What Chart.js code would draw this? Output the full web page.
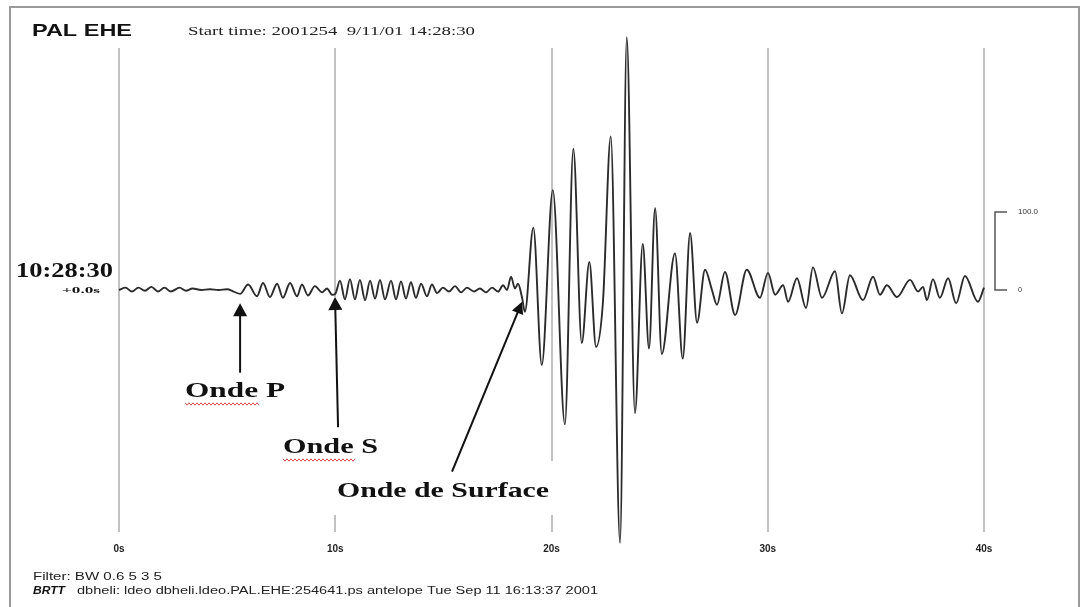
<!DOCTYPE html>
<html><head><meta charset="utf-8">
<script src="https://cdn.jsdelivr.net/npm/chart.js@4.4.1/dist/chart.umd.min.js"></script>
<style>html,body{margin:0;padding:0;background:#fff;}canvas{display:block;}</style>
</head><body>
<canvas id="c" width="1084" height="607"></canvas>
<script>
// ---- data (seconds after 10:28:30, trace amplitude in scale-bar units) ----
const times = [
  0, 0.3, 0.6, 0.9, 1.2, 1.5, 1.8, 2.1, 2.4, 2.8, 3.1, 3.4, 3.8, 4.2, 4.6, 5.0, 5.3, 5.6,
  5.97, 6.38, 6.66, 6.98, 7.31, 7.58, 7.91, 8.23, 8.46, 8.74, 9.06, 9.39, 9.62, 9.85,
  10.0, 10.22, 10.45, 10.68, 10.91, 11.14, 11.38, 11.61, 11.84, 12.07, 12.30, 12.58, 12.81,
  13.04, 13.27, 13.50, 13.73, 13.97, 14.24, 14.47, 14.71, 14.98, 15.26, 15.54, 15.82,
  16.09, 16.42, 16.69, 16.97, 17.25, 17.53, 17.76, 17.94, 18.13, 18.31, 18.45, 18.64, 18.77,
  19.16, 19.55, 20.06, 20.62, 21.01, 21.40, 21.75, 22.06, 22.38, 22.74, 23.17, 23.48,
  23.86, 24.22, 24.51, 24.79, 25.10, 25.71, 26.07, 26.41, 26.73, 27.10, 27.42, 27.65,
  28.02, 28.49, 29.03, 29.64, 30.01, 30.34, 30.71, 30.94, 31.35, 31.77, 32.09, 32.51,
  33.11, 33.43, 33.80, 34.40, 34.87, 35.19, 35.51, 35.98, 36.58, 36.95, 37.18, 37.36,
  37.64, 37.96, 38.34, 38.71, 39.12, 39.72, 40.0
];
const amplitudes = [
  0, 3, -2, 3, -1, 4, -2, 3, -2, 3, -1, 2, 0, 1, 0, 1, -2, -5,
  7, -8, 9, -9, 8, -10, 9, -8, 7, -7, 5, -3, 2, -6,
  -5, 12, -12, 14, -12, 13, -13, 12, -11, 13, -12, 12, -12,
  11, -11, 10, -10, 8, -8, 7, -4, 3, -2, 5, -3,
  3, -2, 2, -3, 3, -2, 6, 0, 17, 2, 8, -10, -28,
  80, -96, 128, -172, 181, -68, 36, -73, -15, 197, -324, 324,
  -158, 59, -75, 105, -82, 47, -88, 73, -42, 26, 0, -19,
  23, -32, 26, -10, 22, -6, 6, -15, 15, -23, 29, -10,
  24, -30, 19, -13, 17, -6, 6, -9, 13, -2, 4, -13,
  14, -10, 15, -17, 18, -15, 3
];
const tickSeconds = [0, 10, 20, 30, 40];
const tickLabels = ['0s', '10s', '20s', '30s', '40s'];
const scaleBarValues = [100, 0];
const scaleBarLabels = ['100.0', '0'];
const waveLabels = ['Onde P', 'Onde S', 'Onde de Surface'];
const arrowTipTimes = [5.6, 9.99, 18.64];
const arrowTipAmps = [-17, -9, -15];
const arrowTailTimes = [5.6, 10.13, 15.4];
const arrowTailAmps = [-106, -176, -233];
const stationName = 'PAL EHE';
const startTimeText = 'Start time: 2001254  9/11/01 14:28:30';
const traceStartText = '10:28:30';
const traceOffsetText = '+0.0s';
const filterText = 'Filter: BW 0.6 5 3 5';
const footerTag = 'BRTT';
const footerText = 'dbheli: ldeo dbheli.ldeo.PAL.EHE:254641.ps antelope Tue Sep 11 16:13:37 2001';

const points = times.map((t, i) => ({ x: t, y: amplitudes[i] }));

function stretchText(ctx, text, x, y, font, width, color) {
  ctx.save();
  ctx.font = font;
  ctx.fillStyle = color || '#1a1a1a';
  const w = ctx.measureText(text).width;
  ctx.translate(x, y);
  ctx.scale(width / w, 1);
  ctx.textAlign = 'left';
  ctx.textBaseline = 'middle';
  ctx.fillText(text, 0, 0);
  ctx.restore();
}
function arrow(ctx, x1, y1, x2, y2, hl, hw) {
  const a = Math.atan2(y2 - y1, x2 - x1);
  ctx.beginPath();
  ctx.moveTo(x1, y1);
  ctx.lineTo(x2 - Math.cos(a) * hl * 0.8, y2 - Math.sin(a) * hl * 0.8);
  ctx.stroke();
  ctx.beginPath();
  ctx.moveTo(x2, y2);
  ctx.lineTo(x2 - hl * Math.cos(a) + hw * Math.sin(a), y2 - hl * Math.sin(a) - hw * Math.cos(a));
  ctx.lineTo(x2 - hl * Math.cos(a) - hw * Math.sin(a), y2 - hl * Math.sin(a) + hw * Math.cos(a));
  ctx.closePath();
  ctx.fill();
}
function squiggle(ctx, x1, x2, y) {
  ctx.save();
  ctx.strokeStyle = '#d24a4a';
  ctx.lineWidth = 1;
  ctx.beginPath();
  let up = true;
  for (let x = x1; x <= x2; x += 2) { ctx.lineTo(x, y + (up ? -1.2 : 1.2)); up = !up; }
  ctx.stroke();
  ctx.restore();
}

const overlay = {
  id: 'overlay',
  beforeDatasetsDraw(chart) {
    const ctx = chart.ctx;
    ctx.save();
    ctx.fillStyle = '#ffffff';
    ctx.fillRect(327, 297, 16, 218);
    ctx.fillRect(330, 461, 230, 54);
    ctx.restore();
  },
  afterDraw(chart) {
    const ctx = chart.ctx;
    const xs = chart.scales.x, ys = chart.scales.y;
    ctx.save();
    // frame
    ctx.strokeStyle = '#9a9a9a';
    ctx.lineWidth = 2;
    ctx.strokeRect(10, 7, 1069, 700);
    // header
    stretchText(ctx, stationName, 32, 31, 'bold 17px "Liberation Sans"', 100, '#111');
    stretchText(ctx, startTimeText, 188, 32, '13px "Liberation Serif"', 287, '#222');
    // trace start label
    stretchText(ctx, traceStartText, 16, 272, 'bold 21px "Liberation Serif"', 97, '#111');
    stretchText(ctx, traceOffsetText, 62, 291, 'bold 9px "Liberation Serif"', 38, '#111');
    // scale bar
    const yTop = ys.getPixelForValue(scaleBarValues[0]);
    const yBot = ys.getPixelForValue(scaleBarValues[1]);
    ctx.strokeStyle = '#555';
    ctx.lineWidth = 1.5;
    ctx.beginPath();
    ctx.moveTo(1007, yTop); ctx.lineTo(995, yTop); ctx.lineTo(995, yBot); ctx.lineTo(1007, yBot);
    ctx.stroke();
    stretchText(ctx, scaleBarLabels[0], 1018, yTop, '8px "Liberation Sans"', 20, '#333');
    stretchText(ctx, scaleBarLabels[1], 1018, yBot, '8px "Liberation Sans"', 4, '#333');
    // arrows
    ctx.strokeStyle = '#111';
    ctx.fillStyle = '#111';
    ctx.lineWidth = 2;
    for (let i = 0; i < arrowTipTimes.length; i++) {
      arrow(ctx, xs.getPixelForValue(arrowTailTimes[i]), ys.getPixelForValue(arrowTailAmps[i]),
        xs.getPixelForValue(arrowTipTimes[i]), ys.getPixelForValue(arrowTipAmps[i]), i === 2 ? 12 : 13, i === 2 ? 6 : 7);
    }
    // wave labels
    const lf = 'bold 22px "Liberation Serif"';
    stretchText(ctx, waveLabels[0], 185, 391, lf, 100, '#111');
    stretchText(ctx, waveLabels[1], 283, 447, lf, 95, '#111');
    stretchText(ctx, waveLabels[2], 337, 491, lf, 212, '#111');
    squiggle(ctx, 185, 259, 404);
    squiggle(ctx, 283, 355, 460);
    // footer
    stretchText(ctx, filterText, 33, 577, '10px "Liberation Sans"', 129, '#222');
    stretchText(ctx, footerTag, 33, 591, 'italic bold 11px "Liberation Sans"', 32, '#111');
    stretchText(ctx, footerText, 77, 591, '10px "Liberation Sans"', 521, '#222');
    ctx.restore();
  }
};

new Chart(document.getElementById('c'), {
  type: 'line',
  data: {
    datasets: [{
      data: points,
      borderColor: '#2b2b2b',
      borderWidth: 1.9,
      pointRadius: 0,
      cubicInterpolationMode: 'monotone',
      fill: false,
      clip: false
    }]
  },
  options: {
    responsive: false,
    animation: false,
    devicePixelRatio: 1,
    layout: { padding: { left: 119, right: 100, top: 48, bottom: 45 } },
    plugins: { legend: { display: false }, tooltip: { enabled: false }, title: { display: false } },
    scales: {
      x: {
        type: 'linear', min: 0, max: 40,
        afterFit: (s) => { s.height = 30; },
        afterBuildTicks: (s) => { s.ticks = tickSeconds.map(v => ({ value: v })); },
        ticks: {
          callback: (v, i) => tickLabels[i],
          padding: 11, maxRotation: 0, autoSkip: false,
          color: '#222', font: { family: 'Liberation Sans', size: 10, weight: 'bold' }
        },
        grid: { color: '#c2c2c2', lineWidth: 2, drawTicks: false },
        border: { display: false }
      },
      y: { display: false, min: -310.26, max: 310.26 }
    }
  },
  plugins: [overlay]
});
</script>
</body></html>
